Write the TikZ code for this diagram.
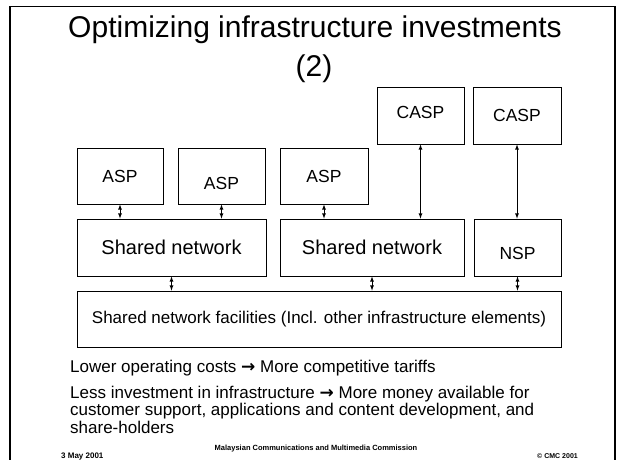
\documentclass[tikz,border=0pt]{standalone}
\usepackage{fontspec}
\setmainfont{Liberation Sans}
\newfontfamily\arrowfont{DejaVu Sans}
\newcommand{\tto}{{\arrowfont\bfseries →}}
\tikzset{
  box/.style={draw, line width=.8pt, minimum height=56pt, inner sep=0pt, font=\fontsize{17.5}{20}\selectfont},
  link/.style={latex-latex, line width=.8pt},
  body/.style={anchor=base west, inner sep=0pt, font=\fontsize{17}{20}\selectfont},
  foot/.style={inner sep=0pt, font=\fontsize{8}{9}\selectfont\bfseries}
}
\begin{document}
\begin{tikzpicture}[x=1pt,y=-1pt]
            \useasboundingbox (0,0) rectangle (618,459);
            \clip (0,0) rectangle (618,459);
            \draw[line width=1.5pt] (10,470) |- (615,6.5) -- (615,470);

            \node[anchor=base, inner sep=0pt, font=\fontsize{30}{36}\selectfont] (title) at (315,37) {Optimizing infrastructure investments};
            \node[anchor=base, inner sep=0pt, font=\fontsize{30}{36}\selectfont] (part) at (314,76) {(2)};

            % providers
            \node[box, minimum width=86pt] (asp1) at (120,176) {ASP};
            \node[box, minimum width=87pt, text height=26.5pt, text depth=0pt] (asp2) at (221.5,176) {ASP};
            \node[box, minimum width=88pt] (asp3) at (324,176) {ASP};
            \node[box, minimum width=87pt, minimum height=57pt, text height=12.5pt, text depth=7pt] (casp1) at (420.5,115.5) {CASP};
            \node[box, minimum width=88pt, minimum height=57pt] (casp2) at (517,115.5) {CASP};

            % networks
            \node[box, minimum width=189pt, minimum height=57pt, font=\fontsize{20}{24}\selectfont] (sn1) at (171.5,247.5) {Shared network};
            \node[box, minimum width=184pt, minimum height=57pt, font=\fontsize{20}{24}\selectfont] (sn2) at (372,247.5) {Shared network};
            \node[box, minimum width=87pt, minimum height=57pt, text height=23.5pt, text depth=0pt] (nsp) at (517.5,247.5) {NSP};
            \node[box, minimum width=484pt, font=\fontsize{17}{20}\selectfont] (fac) at (319,319) {Shared network facilities (Incl. other infrastructure elements)};

            \foreach \a/\b in {asp1/sn1, asp2/sn1, asp3/sn2, casp1/sn2, casp2/nsp, sn1/fac, sn2/fac, nsp/fac}
                \draw[link] (\a.south) -- (\a.south |- \b.north);

            \node[body] (cost) at (70,372) {Lower operating costs \tto{} More competitive tariffs};
            \node[body] (less1) at (70,398) {Less investment in infrastructure \tto{} More money available for};
            \node[body] (less2) at (70,415.5) {customer support, applications and content development, and};
            \node[body] (less3) at (70,433) {share-holders};

            \node[foot, anchor=base west] (date) at (61,458) {3 May 2001};
            \node[foot, anchor=base, font=\fontsize{7.5}{9}\selectfont\bfseries] (mcmc) at (316,450) {Malaysian Communications and Multimedia Commission};
            \node[foot, anchor=base east, font=\fontsize{7}{9}\selectfont\bfseries] (copy) at (578,458) {© CMC 2001};
\end{tikzpicture}
\end{document}
